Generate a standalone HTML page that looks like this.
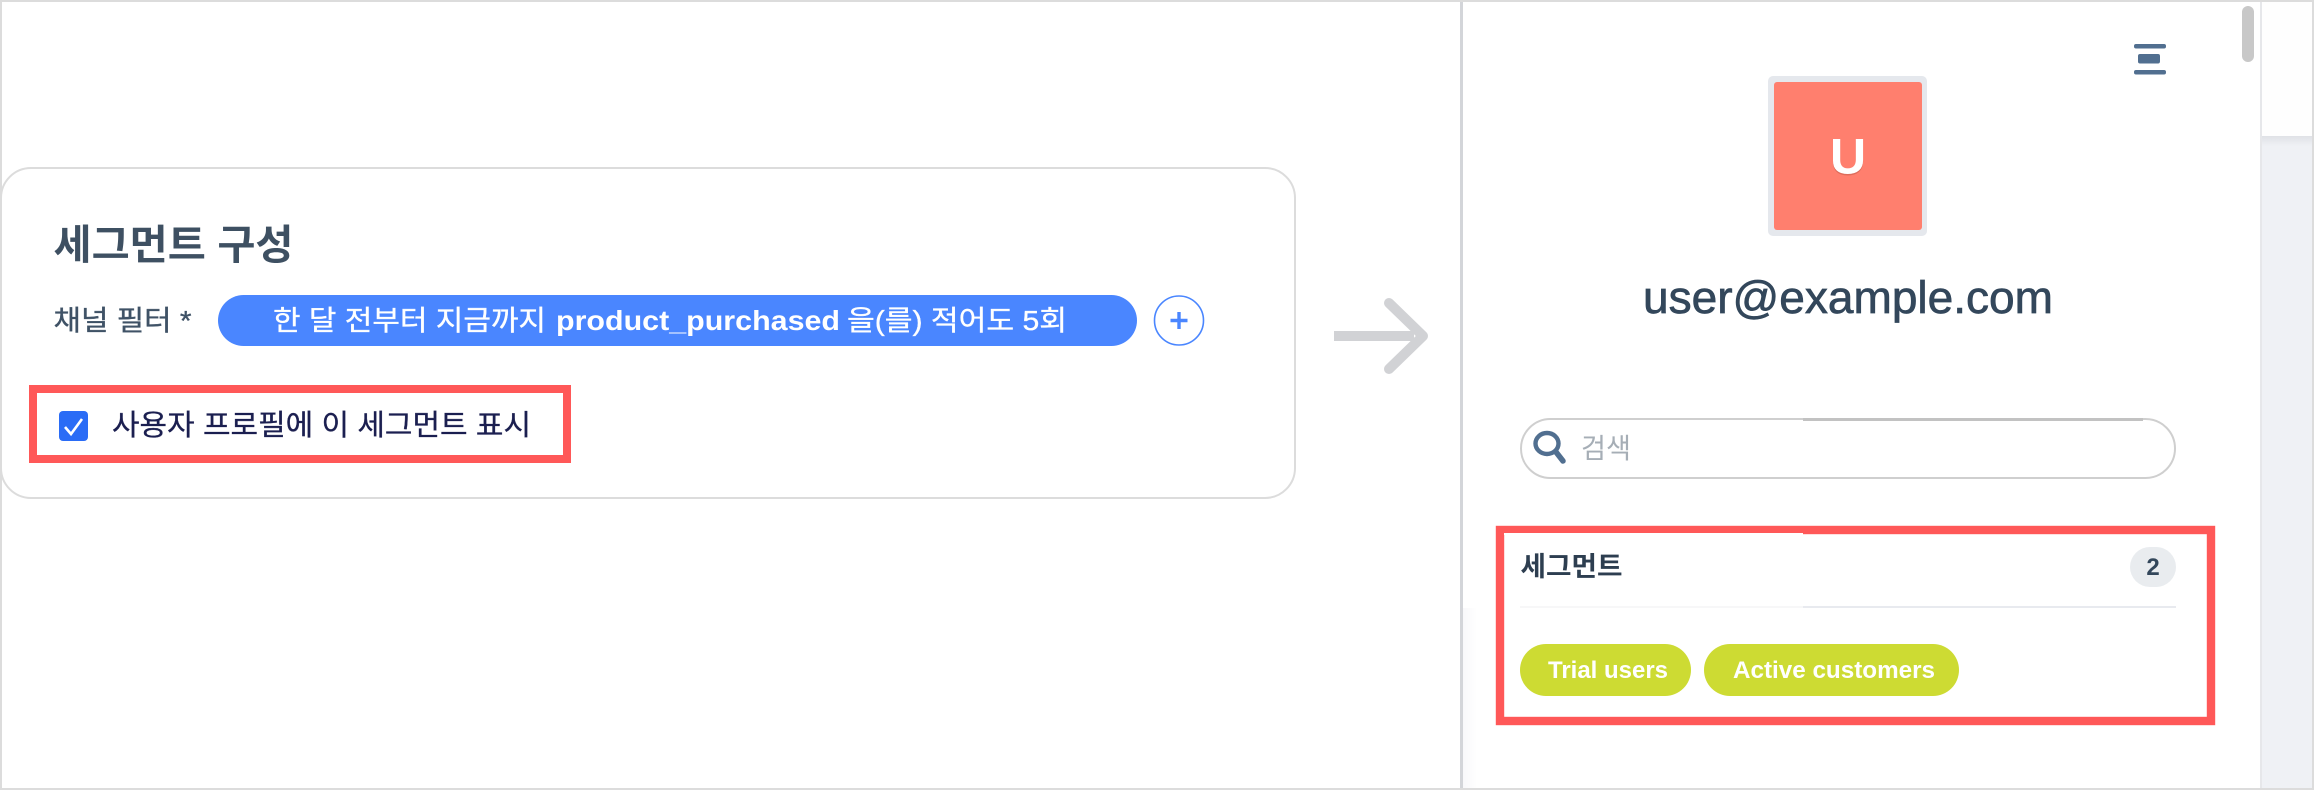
<!DOCTYPE html>
<html lang="ko"><head><meta charset="utf-8"><title>세그먼트</title>
<style>
html,body{margin:0;padding:0;background:#fff;width:2314px;height:790px;overflow:hidden}
svg{display:block}
text{font-family:"Liberation Sans","Noto Sans CJK KR",sans-serif;white-space:pre}
</style></head><body>
<svg xmlns="http://www.w3.org/2000/svg" width="2314" height="790" viewBox="0 0 2314 790">
<defs>
<linearGradient id="sh" x1="0" x2="0" y1="0" y2="1"><stop offset="0" stop-color="#dfe1e6"/><stop offset="1" stop-color="#eff1f5"/></linearGradient>
<linearGradient id="ls" x1="0" x2="1" y1="0" y2="0"><stop offset="0" stop-color="#f8f8fa"/><stop offset="1" stop-color="#ffffff"/></linearGradient>
</defs>
<rect width="2314" height="790" fill="#fff"/>
<!-- right strip -->
<rect x="2260" y="0" width="54" height="136" fill="#fefefe"/>
<rect x="2260" y="136" width="54" height="654" fill="#eff1f5"/>
<rect x="2260" y="136" width="54" height="10" fill="url(#sh)"/>
<rect x="2260" y="0" width="2" height="790" fill="#e6e7ea"/>
<!-- panel -->
<rect x="1463" y="608" width="14" height="180" fill="url(#ls)"/>
<rect x="1460" y="0" width="3" height="790" fill="#d3d5d9"/>
<!-- outer border -->
<rect x="0" y="0" width="2314" height="2" fill="#dcdcdc"/>
<rect x="0" y="788" width="2314" height="2" fill="#dcdcdc"/>
<rect x="0" y="0" width="2" height="790" fill="#dcdcdc"/>
<rect x="2312" y="0" width="2" height="790" fill="#dcdcdc"/>
<!-- card -->
<rect x="1" y="168" width="1294" height="330" rx="30" ry="30" fill="#fff" stroke="#dcdcdc" stroke-width="2"/>
<text x="53.5" y="259" font-size="41" font-weight="700" fill="#3e5062" textLength="240" lengthAdjust="spacingAndGlyphs">세그먼트 구성</text>
<text x="53.5" y="330" font-size="28" fill="#3f5266" stroke="#3f5266" stroke-width=".35" textLength="138" lengthAdjust="spacingAndGlyphs">채널 필터 *</text>
<!-- pill -->
<rect x="218" y="295" width="919" height="51" rx="25.5" fill="#4a86ff"/>
<text x="273" y="330" font-size="28" fill="#fff" stroke="#fff" stroke-width=".35" textLength="273" lengthAdjust="spacingAndGlyphs">한 달 전부터 지금까지</text>
<text x="556" y="330" font-size="28" font-weight="700" fill="#fff" textLength="284" lengthAdjust="spacingAndGlyphs">product_purchased</text>
<text x="847" y="330" font-size="28" fill="#fff" stroke="#fff" stroke-width=".35" textLength="220" lengthAdjust="spacingAndGlyphs">을(를) 적어도 5회</text>
<!-- plus -->
<circle cx="1179" cy="320.5" r="24.5" fill="#fff" stroke="#4a86ff" stroke-width="1.6"/>
<path d="M1179 312v17M1170.5 320.5h17" stroke="#4a86ff" stroke-width="3.4" fill="none"/>
<!-- red box 1 -->
<rect x="33" y="389" width="534" height="70" fill="none" stroke="#ff5858" stroke-width="8"/>
<rect x="59" y="411" width="29" height="30" rx="4" fill="#2a6cf6"/>
<path d="M65 427l6 7 11-15" stroke="#fff" stroke-width="2.6" fill="none"/>
<text x="112" y="435" font-size="29" fill="#1b1f50" stroke="#1b1f50" stroke-width=".3" textLength="419" lengthAdjust="spacingAndGlyphs">사용자 프로필에 이 세그먼트 표시</text>
<!-- arrow -->
<rect x="1334" y="331" width="80" height="10" fill="#d1d2d5"/>
<path d="M1389 303L1423 336L1389 369" fill="none" stroke="#d1d2d5" stroke-width="10" stroke-linecap="round" stroke-linejoin="round"/>
<!-- scrollbar -->
<rect x="2242" y="6" width="12" height="56" rx="6" fill="#c8c8c8"/>
<!-- icon -->
<rect x="2134" y="44" width="32" height="4.5" rx="2" fill="#516f90"/>
<rect x="2138" y="54" width="22" height="9.5" rx="2" fill="#516f90"/>
<rect x="2134" y="70" width="32" height="4.5" rx="2" fill="#516f90"/>
<!-- avatar -->
<rect x="1768" y="76" width="159" height="160" rx="5" fill="#e5e8ed"/>
<rect x="1774" y="82" width="148" height="148" rx="3" fill="#ff7f6e"/>
<text x="1848" y="175" font-size="50" font-weight="700" fill="#c9604f" text-anchor="middle" opacity=".6">U</text>
<text x="1848" y="173.5" font-size="50" font-weight="700" fill="#fff" text-anchor="middle">U</text>
<!-- email -->
<text x="1643" y="313" font-size="45" fill="#33475b" stroke="#33475b" stroke-width=".7" textLength="410" lengthAdjust="spacingAndGlyphs">user@example.com</text>
<!-- search -->
<rect x="1521" y="419" width="654" height="59" rx="29.5" fill="#fff" stroke="#cfcfcf" stroke-width="2"/>
<rect x="1803" y="418" width="340" height="3" fill="#c2c2c2"/>
<ellipse cx="1547" cy="443.5" rx="11.5" ry="10.5" fill="none" stroke="#516f90" stroke-width="4.4"/>
<path d="M1556 452l7 9" stroke="#516f90" stroke-width="5.5" stroke-linecap="round"/>
<text x="1581" y="458" font-size="28" fill="#a6aeb6" textLength="50" lengthAdjust="spacingAndGlyphs">검색</text>
<!-- red box 2 -->
<rect x="1500" y="530" width="711" height="191" fill="none" stroke="#ff5858" stroke-width="8.4"/>
<rect x="1504" y="533" width="299" height="2" fill="#fff"/>
<text x="1520.5" y="576" font-size="27" font-weight="700" fill="#2d3e50" textLength="102" lengthAdjust="spacingAndGlyphs">세그먼트</text>
<rect x="2130" y="547" width="46" height="40" rx="20" fill="#e9ecef"/>
<text x="2153" y="575" font-size="24" font-weight="700" fill="#33475b" text-anchor="middle">2</text>
<rect x="1803" y="606" width="373" height="2" fill="#e8eaef"/>
<rect x="1520" y="606" width="283" height="2" fill="#f7f7f8"/>
<!-- tags -->
<rect x="1520" y="644" width="171" height="52" rx="26" fill="#cddb33"/>
<text x="1548" y="678" font-size="23.7" font-weight="700" fill="#fff" textLength="120" lengthAdjust="spacingAndGlyphs">Trial users</text>
<rect x="1704" y="644" width="255" height="52" rx="26" fill="#cddb33"/>
<text x="1733" y="678" font-size="24" font-weight="700" fill="#fff" textLength="202" lengthAdjust="spacingAndGlyphs">Active customers</text>
</svg>
</body></html>
